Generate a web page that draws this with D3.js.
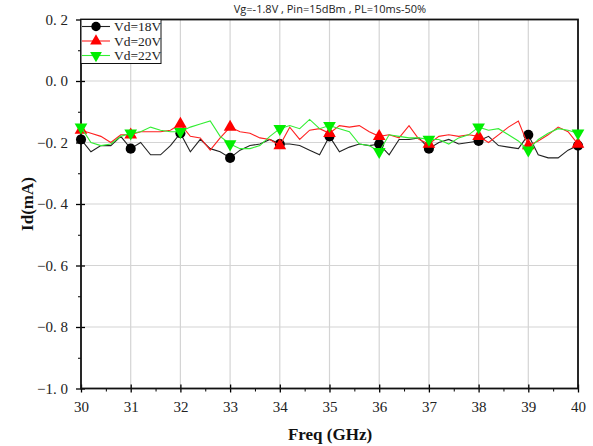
<!DOCTYPE html>
<html>
<head>
<meta charset="utf-8">
<script src="https://cdn.jsdelivr.net/npm/d3@7"></script>
<style>
  body { margin: 0; background: #fff; }
  svg { display: block; }
</style>
</head>
<body>
<div id="graph"></div>
<script>
// Frecuencias (GHz)
const freq = [30.0, 30.2, 30.4, 30.6, 30.8, 31.0, 31.2, 31.4, 31.6, 31.8,
  32.0, 32.2, 32.4, 32.6, 32.8, 33.0, 33.2, 33.4, 33.6, 33.8,
  34.0, 34.2, 34.4, 34.6, 34.8, 35.0, 35.2, 35.4, 35.6, 35.8,
  36.0, 36.2, 36.4, 36.6, 36.8, 37.0, 37.2, 37.4, 37.6, 37.8,
  38.0, 38.2, 38.4, 38.6, 38.8, 39.0, 39.2, 39.4, 39.6, 39.8, 40.0]

// Id (mA) por serie
const vd18 = [-0.19, -0.23, -0.21, -0.21, -0.18, -0.22, -0.20, -0.24, -0.24, -0.21,
  -0.17, -0.23, -0.19, -0.22, -0.23, -0.25, -0.225, -0.21, -0.205, -0.19,
  -0.205, -0.205, -0.21, -0.225, -0.24, -0.18, -0.23, -0.215, -0.205, -0.21,
  -0.205, -0.24, -0.19, -0.19, -0.185, -0.22, -0.20, -0.19, -0.205, -0.20,
  -0.195, -0.18, -0.21, -0.215, -0.22, -0.175, -0.24, -0.25, -0.25, -0.225, -0.21]

const vd20 = [-0.16, -0.17, -0.18, -0.20, -0.175, -0.175, -0.165, -0.165, -0.165, -0.16,
  -0.14, -0.18, -0.185, -0.225, -0.185, -0.15, -0.165, -0.17, -0.185, -0.19,
  -0.21, -0.15, -0.19, -0.16, -0.155, -0.17, -0.145, -0.15, -0.145, -0.165,
  -0.18, -0.175, -0.185, -0.145, -0.19, -0.205, -0.18, -0.175, -0.18, -0.175,
  -0.18, -0.20, -0.175, -0.15, -0.13, -0.21, -0.195, -0.175, -0.15, -0.165, -0.205]

const vd22 = [-0.15, -0.20, -0.21, -0.205, -0.18, -0.17, -0.165, -0.15, -0.16, -0.165,
  -0.165, -0.15, -0.14, -0.13, -0.18, -0.205, -0.22, -0.22, -0.21, -0.18,
  -0.155, -0.145, -0.155, -0.125, -0.155, -0.145, -0.155, -0.165, -0.205, -0.21,
  -0.23, -0.175, -0.18, -0.185, -0.185, -0.19, -0.19, -0.205, -0.185, -0.175,
  -0.15, -0.16, -0.155, -0.175, -0.195, -0.225, -0.19, -0.17, -0.155, -0.16, -0.17]

const seriesNames = ["Vd=18V", "Vd=20V", "Vd=22V"]
const seriesColours = ["#000000", "#ff0000", "#00ee00"]
const lineColours = ["#222222", "#ff2020", "#33ee33"]
const seriesSymbols = [d3.symbolCircle, d3.symbolTriangle, d3.symbolTriangle]

const xTicks = [30, 31, 32, 33, 34, 35, 36, 37, 38, 39, 40]
const yTicks = [0.2, 0.0, -0.2, -0.4, -0.6, -0.8, -1.0]

const dimensions = { width: 593, height: 446 }
const margin = { left: 81, right: 15, top: 19.5, bottom: 57.5 }

const serif = "'Liberation Serif', 'DejaVu Serif', serif"

const svg = d3.select("#graph")
  .append("svg")
    .attr("width", dimensions.width)
    .attr("height", dimensions.height)

const xScale = d3.scaleLinear()
  .domain([30, 40])
  .range([margin.left, dimensions.width - margin.right])

const yScale = d3.scaleLinear()
  .domain([-1.0, 0.2])
  .range([dimensions.height - margin.bottom, margin.top])

const x0 = xScale.range()[0], x1 = xScale.range()[1]
const y0 = yScale.range()[0], y1 = yScale.range()[1]

// Rejilla
const grid = svg.append("g").attr("stroke", "#d4d4d4").attr("stroke-width", 1.2)
grid.selectAll(".gx").data(xTicks.slice(1, -1)).join("line")
  .attr("x1", d => xScale(d)).attr("x2", d => xScale(d))
  .attr("y1", y1).attr("y2", y0)
grid.selectAll(".gy").data(yTicks.slice(1, -1)).join("line")
  .attr("x1", x0).attr("x2", x1)
  .attr("y1", d => yScale(d)).attr("y2", d => yScale(d))

// Ejes
const fmtY = d => d3.format(".1f")(d).replace("-", "\u2212").replace(".", ".\u00a0")

const xAxis = svg.append("g")
  .attr("transform", `translate(0,${y0})`)
  .call(d3.axisBottom(xScale).tickValues(xTicks).tickSize(4).tickPadding(9).tickFormat(d3.format("d")))
xAxis.call(g => g.select(".domain").remove())
xAxis.selectAll(".tick line").attr("y1", -4).attr("stroke-width", 1.3)
xAxis.selectAll(".tick text")
  .style("font-family", serif)
  .style("font-size", "15px").attr("fill", "#222")

svg.append("g")
  .attr("transform", `translate(0,${y0})`)
  .call(d3.axisBottom(xScale).tickValues(d3.range(30.5, 40, 1)).tickSize(3).tickFormat(""))
  .call(g => g.select(".domain").remove())

const yAxis = svg.append("g")
  .attr("transform", `translate(${x0},0)`)
  .call(d3.axisLeft(yScale).tickValues(yTicks).tickSize(5).tickPadding(8).tickFormat(fmtY))
yAxis.call(g => g.select(".domain").remove())
yAxis.selectAll(".tick line").attr("x1", 4).attr("stroke-width", 1.3)
yAxis.selectAll(".tick text")
  .style("font-family", serif)
  .style("font-size", "15px").attr("fill", "#222")

svg.append("g")
  .attr("transform", `translate(${x0},0)`)
  .call(d3.axisLeft(yScale).tickValues(d3.range(0.1, -1.0, -0.2)).tickSize(3).tickFormat(""))
  .call(g => g.select(".domain").remove())

// Marco
svg.append("rect")
  .attr("x", x0).attr("y", y1)
  .attr("width", x1 - x0).attr("height", y0 - y1)
  .attr("fill", "none").attr("stroke", "#111").attr("stroke-width", 1.8)

// Series
const allSeries = [vd18, vd20, vd22]
const line = d3.line().x((d, i) => xScale(freq[i])).y(d => yScale(d))

allSeries.forEach((values, k) => {
  svg.append("path")
    .datum(values)
    .attr("fill", "none")
    .attr("stroke", lineColours[k])
    .attr("stroke-width", 1.1)
    .attr("d", line)

  const pts = values.map((v, i) => ({ f: freq[i], v })).filter(d => Math.abs(d.f - Math.round(d.f)) < 1e-6)
  svg.append("g").selectAll("path")
    .data(pts)
    .join("path")
      .attr("d", d3.symbol().type(seriesSymbols[k]).size(k === 0 ? 80 : 70))
      .attr("transform", d => `translate(${xScale(d.f)},${yScale(d.v)})${k === 2 ? " rotate(180)" : ""}`)
      .attr("fill", seriesColours[k])
})

// Leyenda
const legend = svg.append("g")
legend.append("rect")
  .attr("x", x0).attr("y", y1)
  .attr("width", 80).attr("height", 44)
  .attr("fill", "#fff").attr("stroke", "#111").attr("stroke-width", 1)

seriesNames.forEach((name, k) => {
  const ly = y1 + 7 + k * 14.5
  legend.append("line")
    .attr("x1", x0 + 1).attr("x2", x0 + 29)
    .attr("y1", ly).attr("y2", ly)
    .attr("stroke", lineColours[k]).attr("stroke-width", 1.1)
  legend.append("path")
    .attr("d", d3.symbol().type(seriesSymbols[k]).size(k === 0 ? 70 : 60))
    .attr("transform", `translate(${x0 + 15},${ly})${k === 2 ? " rotate(180)" : ""}`)
    .attr("fill", seriesColours[k])
  legend.append("text")
    .attr("x", x0 + 33).attr("y", ly + 4.5)
    .attr("font-family", serif)
    .attr("font-size", 13.5).attr("fill", "#222")
    .text(name)
})

// Titulo
svg.append("text")
  .attr("x", 330).attr("y", 13)
  .attr("text-anchor", "middle")
  .attr("font-family", "'Open Sans', 'Noto Sans', sans-serif")
  .attr("font-size", 11).attr("fill", "#222")
  .text("Vg=-1.8V , Pin=15dBm , PL=10ms-50%")

// Titulos de ejes
svg.append("text")
  .attr("x", 330).attr("y", 440)
  .attr("text-anchor", "middle")
  .attr("font-family", serif)
  .attr("font-weight", "bold").attr("font-size", 17).attr("fill", "#111")
  .text("Freq (GHz)")

svg.append("text")
  .attr("transform", `translate(33,${(y0 + y1) / 2}) rotate(-90)`)
  .attr("text-anchor", "middle")
  .attr("font-family", serif)
  .attr("font-weight", "bold").attr("font-size", 17).attr("fill", "#111")
  .text("Id(mA)")
</script>
</body>
</html>
